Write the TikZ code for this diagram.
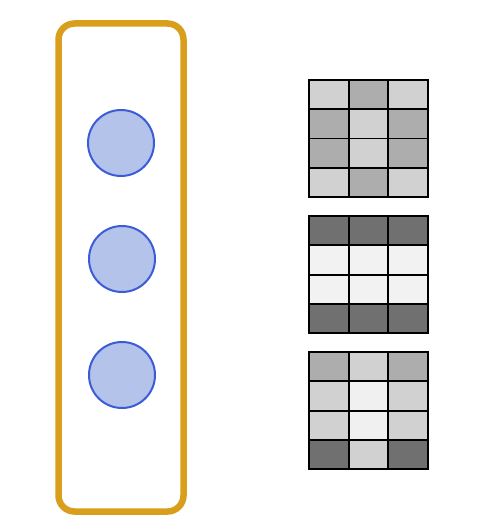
\documentclass[tikz,border=0pt]{standalone}
\begin{document}
\begin{tikzpicture}[x=1pt,y=-1pt,
  goldbox/.style={draw=gold,line width=6.5pt,rounded corners=16pt},
  unit/.style={circle,draw=unitblue,fill=unitfill,line width=2pt,minimum size=66pt,inner sep=0pt},
  cell/.style={draw=black,line width=1.8pt}]
\definecolor{gold}{HTML}{D89E1C}
\definecolor{unitblue}{HTML}{3B5CD6}
\definecolor{unitfill}{HTML}{B4C3EA}
\useasboundingbox (0,0) rectangle (494,529);
\draw[goldbox] (58.5,23.5) rectangle (183.5,511.5);
\node[unit] (u1) at (121,143) {};
\node[unit] (u2) at (122,259) {};
\node[unit] (u3) at (122,375) {};
% grids
\def\cw{39.67}
\def\ch{29.3}
\newcommand{\mygrid}[2]{%
  \foreach \r/\vals in {#2} {
    \foreach \v [count=\c from 0] in \vals {
      \fill[black!\v!white] (309+\c*\cw,#1+\r*\ch) rectangle ++(\cw,\ch);
    }
  }
  \foreach \i in {1,2} \draw[cell] (309+\i*\cw,#1) -- ++(0,117.2);
  \foreach \i in {1,2,3} \draw[cell] (309,#1+\i*\ch) -- ++(119,0);
  \draw[cell] (309,#1) rectangle ++(119,117.2);
}
\mygrid{80}{0/{18,32,18},1/{32,18,32},2/{32,18,32},3/{18,32,18}}
\mygrid{216}{0/{56,56,56},1/{5,5,5},2/{5,5,5},3/{56,56,56}}
\mygrid{352}{0/{32,18,32},1/{18,6,18},2/{18,6,18},3/{56,18,56}}
\end{tikzpicture}
\end{document}
